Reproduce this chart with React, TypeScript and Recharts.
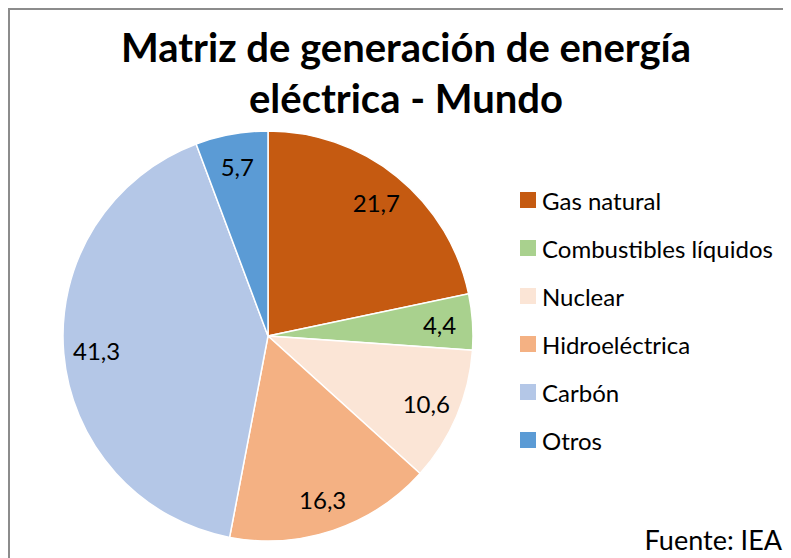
import React from 'react';
import { PieChart, Pie, Cell, Legend } from 'recharts';

const categories = ['Gas natural', 'Combustibles líquidos', 'Nuclear', 'Hidroeléctrica', 'Carbón', 'Otros'];
const values = [21.7, 4.4, 10.6, 16.3, 41.3, 5.7];
const colors = ['#C55A11', '#A9D18E', '#FBE5D6', '#F4B183', '#B4C7E7', '#5B9BD5'];

const data = categories.map((name, i) => ({ name, value: values[i] }));

const FONT = 'Lato, "Open Sans", sans-serif';
const RADIAN = Math.PI / 180;

// value labels inside each slice, like Excel's "inside end"-ish placement
const renderLabel = (props: any) => {
  const { cx, cy, midAngle, value } = props;
  const r = 172;
  const x = cx + r * Math.cos(-midAngle * RADIAN);
  const y = cy + r * Math.sin(-midAngle * RADIAN);
  return (
    <text x={x} y={y} fill="#000" fontSize={24} fontFamily={FONT} textAnchor="middle" dominantBaseline="central">
      {String(value).replace('.', ',')}
    </text>
  );
};

const LegendContent = () => (
  <div style={{ fontFamily: FONT, fontSize: 24, color: '#000' }}>
    {data.map((d, i) => (
      <div key={d.name} style={{ display: 'flex', alignItems: 'center', height: 48 }}>
        <span style={{ width: 16, height: 16, background: colors[i], marginRight: 6, display: 'inline-block' }} />
        <span>{d.name}</span>
      </div>
    ))}
  </div>
);

export default function App() {
  return (
    <div
      style={{
        position: 'relative',
        width: 781,
        height: 548,
        borderTop: '2px solid #8c8c8c',
        borderLeft: '2px solid #8c8c8c',
        background: '#fff',
        overflow: 'hidden',
      }}
    >
      <div
        style={{
          position: 'absolute',
          top: 12,
          left: 0,
          width: 792,
          textAlign: 'center',
          fontFamily: FONT,
          fontWeight: 700,
          fontSize: 40,
          lineHeight: '51px',
          color: '#000',
        }}
      >
        Matriz de generación de energía
        <br />
        eléctrica - Mundo
      </div>
      <PieChart width={781} height={548}>
        <Pie
          data={data}
          dataKey="value"
          nameKey="name"
          cx={253}
          cy={321}
          outerRadius={205}
          startAngle={90}
          endAngle={-270}
          stroke="#fff"
          strokeWidth={1.5}
          label={renderLabel}
          labelLine={false}
          isAnimationActive={false}
        >
          {data.map((d, i) => (
            <Cell key={d.name} fill={colors[i]} />
          ))}
        </Pie>
        <Legend
          layout="vertical"
          align="right"
          verticalAlign="top"
          content={<LegendContent />}
          wrapperStyle={{ top: 166, left: 510, width: 270 }}
        />
      </PieChart>
      <div
        style={{
          position: 'absolute',
          right: 9,
          bottom: 2,
          fontFamily: FONT,
          fontSize: 27,
          color: '#000',
        }}
      >
        Fuente: IEA
      </div>
    </div>
  );
}
